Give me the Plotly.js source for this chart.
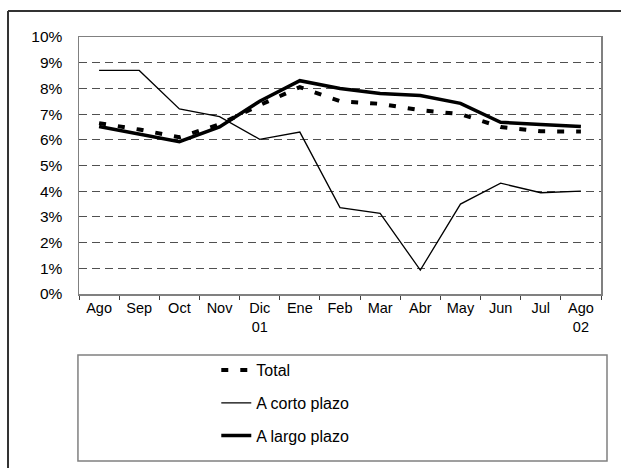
<!DOCTYPE html>
<html><head><meta charset="utf-8">
<script src="https://cdn.plot.ly/plotly-3.0.1.min.js"></script>
<style>html,body{margin:0;padding:0;background:#fff}#chart{width:621px;height:468px}</style>
</head><body><div id="chart"></div>
<script>
const months = ["Ago","Sep","Oct","Nov","Dic<br>01","Ene","Feb","Mar","Abr","May","Jun","Jul","Ago<br>02"];
const total = [6.65, 6.4, 6.1, 6.6, 7.35, 8.05, 7.5, 7.4, 7.15, 7.0, 6.5, 6.33, 6.32];
const corto = [8.7, 8.7, 7.2, 6.9, 6.02, 6.3, 3.36, 3.14, 0.93, 3.5, 4.31, 3.94, 4.0];
const largo = [6.52, 6.22, 5.93, 6.5, 7.5, 8.3, 8.0, 7.8, 7.72, 7.42, 6.68, 6.6, 6.52];
const yTicks = [0,1,2,3,4,5,6,7,8,9,10];
const yTickLabels = ["0%","1%","2%","3%","4%","5%","6%","7%","8%","9%","10%"];

const traces = [
  {x: months, y: total, name: "Total", type: "scatter", mode: "lines", legendgroup: "a",
   line: {color: "#000", width: 4, dash: "7px,12px"}},
  {x: months, y: corto, name: "A corto plazo", type: "scatter", mode: "lines", legendgroup: "b",
   line: {color: "#000", width: 1.3}},
  {x: months, y: largo, name: "A largo plazo", type: "scatter", mode: "lines", legendgroup: "c",
   line: {color: "#000", width: 3.5}}
];

const layout = {
  width: 621, height: 468,
  margin: {l: 79, r: 20, t: 37, b: 174},
  paper_bgcolor: "#fff", plot_bgcolor: "#fff",
  font: {family: "Liberation Sans, Arial, sans-serif", size: 14.5, color: "#000"},
  showlegend: true,
  legend: {x: 0.263, xanchor: "left", y: -0.23, yanchor: "top", bgcolor: "rgba(0,0,0,0)",
           borderwidth: 0, tracegroupgap: 9, font: {size: 16}},
  xaxis: {type: "category", range: [-0.5, 12.5], tickson: "boundaries",
          ticks: "outside", ticklen: 4, tickcolor: "#404040", showline: true, mirror: true,
          linecolor: "#808080", linewidth: 1.5, showgrid: false, fixedrange: true,
          tickfont: {size: 14.5}},
  yaxis: {range: [0, 10], tickmode: "array", tickvals: yTicks, ticktext: yTickLabels, ticks: "",
          showline: true, mirror: true, tickfont: {size: 15.5},
          linecolor: "#808080", linewidth: 1.5, showgrid: true, gridcolor: "#505050", griddash: "8px,5px",
          gridwidth: 1, zeroline: false, ticklabelstandoff: 12, fixedrange: true},
  shapes: [
    {type: "line", xref: "paper", yref: "paper", x0: -0.136, x1: -0.136, y0: -0.8, y1: 1.101,
     line: {color: "#333", width: 2}, layer: "below"},
    {type: "line", xref: "paper", yref: "paper", x0: -0.136, x1: 1.2, y0: 1.101, y1: 1.101,
     line: {color: "#333", width: 2}, layer: "below"},
    {type: "rect", xref: "paper", yref: "paper", x0: -0.002, x1: 1.0115, y0: -0.65, y1: -0.237,
     line: {color: "#808080", width: 1.5}, layer: "below"}
  ]
};
Plotly.newPlot("chart", traces, layout, {displayModeBar: false, staticPlot: true});
</script></body></html>
